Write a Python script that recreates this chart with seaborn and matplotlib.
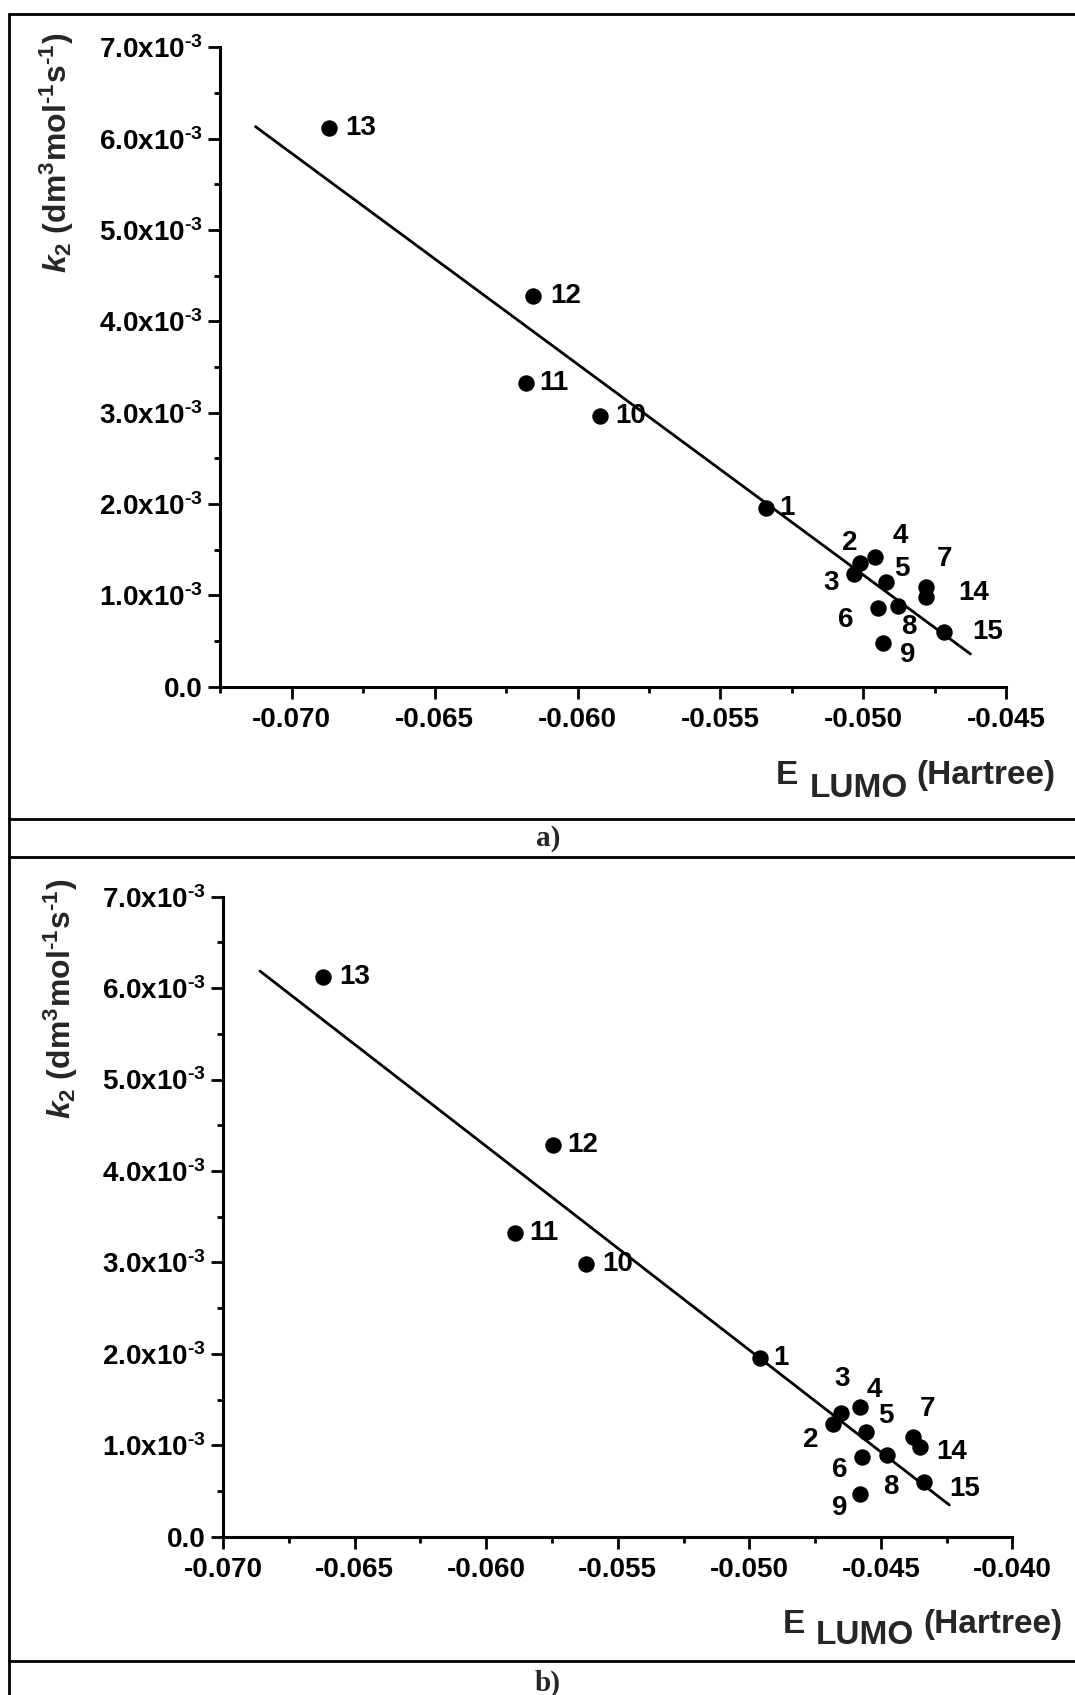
import numpy as np
import pandas as pd
import matplotlib
matplotlib.use("Agg")
import matplotlib.pyplot as plt
from matplotlib.ticker import MultipleLocator, AutoMinorLocator, FuncFormatter
from matplotlib.lines import Line2D
import seaborn as sns

# ---------------- data ----------------
compounds = ["1", "2", "3", "4", "5", "6", "7", "8", "9", "10", "11", "12", "13", "14", "15"]

# panel a)
elumo_a = [-0.05341, -0.0501, -0.05031, -0.04958, -0.0492, -0.0495, -0.04779, -0.0488,
           -0.0493, -0.05921, -0.06179, -0.06155, -0.0687, -0.04779, -0.04717]
k2_a = [1.960e-3, 1.351e-3, 1.231e-3, 1.417e-3, 1.143e-3, 0.865e-3, 1.095e-3, 0.887e-3,
        0.475e-3, 2.967e-3, 3.328e-3, 4.277e-3, 6.113e-3, 0.979e-3, 0.602e-3]
fit_a_x = [-0.07127, -0.04625]
fit_a_y = [6.131e-3, 0.358e-3]

# panel b)
elumo_b = [-0.0496, -0.04681, -0.04651, -0.04581, -0.04558, -0.04571, -0.04379, -0.04478,
           -0.04581, -0.05619, -0.05889, -0.05747, -0.0662, -0.04351, -0.04338]
k2_b = [1.958e-3, 1.233e-3, 1.350e-3, 1.422e-3, 1.142e-3, 0.868e-3, 1.094e-3, 0.894e-3,
        0.467e-3, 2.979e-3, 3.325e-3, 4.284e-3, 6.125e-3, 0.984e-3, 0.602e-3]
fit_b_x = [-0.0686, -0.0424]
fit_b_y = [6.187e-3, 0.347e-3]

y_ticks = [0.0, 1e-3, 2e-3, 3e-3, 4e-3, 5e-3, 6e-3, 7e-3]

# label offsets in pixels (dx right, dy down)
offs_a = [(21, 0), (-11, -20), (-23, 9), (25, -21), (16, -13), (-32, 12), (18, -28), (11, 21),
          (24, 12), (31, 0), (27, 0), (32, 0), (32, 0), (47, -4), (43, 0)]
offs_b = [(21, 0), (-23, 16), (1, -34), (15, -17), (20, -16), (-23, 13), (15, -28), (4, 32),
          (-20, 14), (31, 0), (28, 0), (30, 0), (32, 0), (31, 5), (41, 7)]

# ---------------- style ----------------
sns.set_theme(style="ticks")
plt.rcParams["font.family"] = ["Liberation Sans", "DejaVu Sans"]
plt.rcParams["font.weight"] = "bold"
plt.rcParams["mathtext.fontset"] = "custom"
plt.rcParams["mathtext.rm"] = "Liberation Sans:bold"
plt.rcParams["mathtext.bf"] = "Liberation Sans:bold"
plt.rcParams["mathtext.it"] = "Liberation Sans:bold:italic"
plt.rcParams["mathtext.default"] = "rm"

W, H = 1075, 1695
fig = plt.figure(figsize=(W / 100, H / 100), dpi=100)


def fx(px):
    return px / W


def fy(py):
    return 1 - py / H


def ytick_fmt(v, pos):
    if abs(v) < 1e-12:
        return "0.0"
    return r"$%.1f\mathrm{x}10^{\text{-3}}$" % (v * 1e3)


def draw_panel(rect, xs, ys, fitx, fity, offs, xlim, xmajor):
    ax = fig.add_axes(rect)
    df = pd.DataFrame({"x": xs, "y": ys, "lab": compounds})
    sns.lineplot(x=fitx, y=fity, ax=ax, color="black", linewidth=2.0, sort=False)
    sns.scatterplot(data=df, x="x", y="y", ax=ax, color="black", s=140,
                    linewidth=0, zorder=3, legend=False)
    for (xv, yv, lab), (dx, dy) in zip(zip(xs, ys, compounds), offs):
        ax.annotate(lab, (xv, yv), xytext=(dx, -dy), textcoords="offset pixels",
                    ha="center", va="center", fontsize=20, fontweight="bold", color="black")
    ax.set_xlim(*xlim)
    ax.set_ylim(0, 7e-3)
    ax.set_xlabel("")
    ax.set_ylabel("")
    ax.xaxis.set_major_locator(MultipleLocator(xmajor))
    ax.xaxis.set_minor_locator(AutoMinorLocator(2))
    ax.set_yticks(y_ticks)
    ax.yaxis.set_minor_locator(AutoMinorLocator(2))
    ax.yaxis.set_major_formatter(FuncFormatter(ytick_fmt))
    ax.xaxis.set_major_formatter(FuncFormatter(lambda v, p: "%.3f" % v))
    for s in ["top", "right"]:
        ax.spines[s].set_visible(False)
    for s in ["left", "bottom"]:
        ax.spines[s].set_linewidth(2.2)
        ax.spines[s].set_color("black")
    ax.tick_params(axis="both", which="major", direction="out", length=8.5, width=2.0,
                   colors="black", labelsize=20)
    ax.tick_params(axis="both", which="minor", direction="out", length=4.2, width=2.0,
                   colors="black")
    ax.tick_params(axis="y", which="major", pad=4)
    ax.tick_params(axis="x", which="major", pad=6)
    for t in ax.get_xticklabels() + ax.get_yticklabels():
        t.set_fontweight("bold")
    ax.set_facecolor("white")
    return ax


# panel a axes: x 220.4..1006.2, y 47.3..686.7
ax_a = draw_panel([fx(220.4), fy(686.7), fx(1006.2) - fx(220.4), fy(47.3) - fy(686.7)],
                  elumo_a, k2_a, fit_a_x, fit_a_y, offs_a, (-0.0725, -0.045), 0.005)
# panel b axes: x 223.1..1012.5, y 896.7..1536.7
ax_b = draw_panel([fx(223.1), fy(1536.7), fx(1012.5) - fx(223.1), fy(896.7) - fy(1536.7)],
                  elumo_b, k2_b, fit_b_x, fit_b_y, offs_b, (-0.070, -0.040), 0.005)

ylab = r"$\mathit{k}_{2}$ (dm$^{3}$mol$^{\text{-1}}$s$^{\text{-1}}$)"
fig.text(fx(57), fy(153), ylab, rotation=90, ha="center", va="center",
         fontsize=23, fontweight="bold")
fig.text(fx(61), fy(999), ylab, rotation=90, ha="center", va="center",
         fontsize=23, fontweight="bold")

# x labels: "E", subscript-like "LUMO", "(Hartree)" chained left to right
fig.canvas.draw()
renderer = fig.canvas.get_renderer()
for (xe, be, bl) in [(776, 784, 796.7), (783, 1633.3, 1644)]:
    t1 = fig.text(fx(xe), fy(be), "E", ha="left", va="baseline", fontsize=24, fontweight="bold")
    x1 = t1.get_window_extent(renderer).x1
    t2 = fig.text((x1 + 11) / W, fy(bl), "LUMO", ha="left", va="baseline", fontsize=24,
                  fontweight="bold")
    x2 = t2.get_window_extent(renderer).x1
    fig.text((x2 + 9) / W, fy(be), "(Hartree)", ha="left", va="baseline", fontsize=24,
             fontweight="bold")

# panel captions
fig.text(fx(548), fy(838), "a)", ha="center", va="center", fontsize=21,
         fontweight="bold", family=["Liberation Serif", "DejaVu Serif"])
fig.text(fx(548), fy(1683), "b)", ha="center", va="center", fontsize=21,
         fontweight="bold", family=["Liberation Serif", "DejaVu Serif"])

# table frame
lw = 2.0
fig.add_artist(Line2D([fx(8.6), 1.0], [fy(14), fy(14)], color="black", lw=lw))
fig.add_artist(Line2D([fx(8.6), fx(8.6)], [fy(14), 0.0], color="black", lw=lw))
for yy in [819.3, 856.7, 1660.7]:
    fig.add_artist(Line2D([fx(8.6), 1.0], [fy(yy), fy(yy)], color="black", lw=lw))

fig.savefig("out.png", dpi=100, facecolor="white")
